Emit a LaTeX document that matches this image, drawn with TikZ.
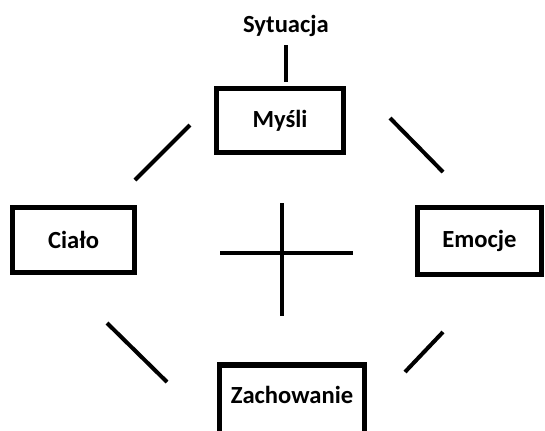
\documentclass[tikz,border=0pt]{standalone}
\usepackage{fontspec}
\setmainfont{Carlito}
\usepackage{tikz}
\usetikzlibrary{calc}

\begin{document}
\begin{tikzpicture}[x=0.025cm, y=-0.025cm, main node/.style={draw, line width=3.6pt, inner sep=0pt, font=\bfseries\fontsize{17.5}{20}\selectfont}, label node/.style={inner sep=0pt, font=\bfseries\fontsize{17.5}{20}\selectfont}, bar/.style={line width=2.85pt}, cross/.style={line width=2.5pt}]
\useasboundingbox (0,0) rectangle (545,430);
\node[label node] (sytuacja) at (286,26) {Sytuacja};
\node[main node, minimum width=3.175cm, minimum height=1.6cm] (mysli) at (280,120.5) {Myśli};
\node[main node, minimum width=3.05cm, minimum height=1.625cm] (cialo) at (73.5,240) {Ciało};
\node[main node, minimum width=3.1cm, minimum height=1.675cm] (emocje) at (479.5,241) {Emocje};
\node[main node, minimum width=3.625cm, minimum height=1.8cm, text depth=0.3cm] (zachowanie) at (292,401) {Zachowanie};
\draw[bar, shorten <=0.21cm, shorten >=0.1cm] (sytuacja.south) -- (sytuacja.south |- mysli.north);
% odcinki miedzy polami
\draw[bar] (190,125) -- (135,180);
\draw[bar] (390,118) -- (443,172);
\draw[bar] (107,323) -- (167,382);
\draw[bar] (443,332) -- (405,372);
% krzyz w srodku
\coordinate (srodek) at (282,253);
\draw[cross] ($(srodek)+(-62,0)$) -- ($(srodek)+(71,0)$);
\draw[cross] ($(srodek)+(0,-50)$) -- ($(srodek)+(0,63)$);
\end{tikzpicture}
\end{document}
